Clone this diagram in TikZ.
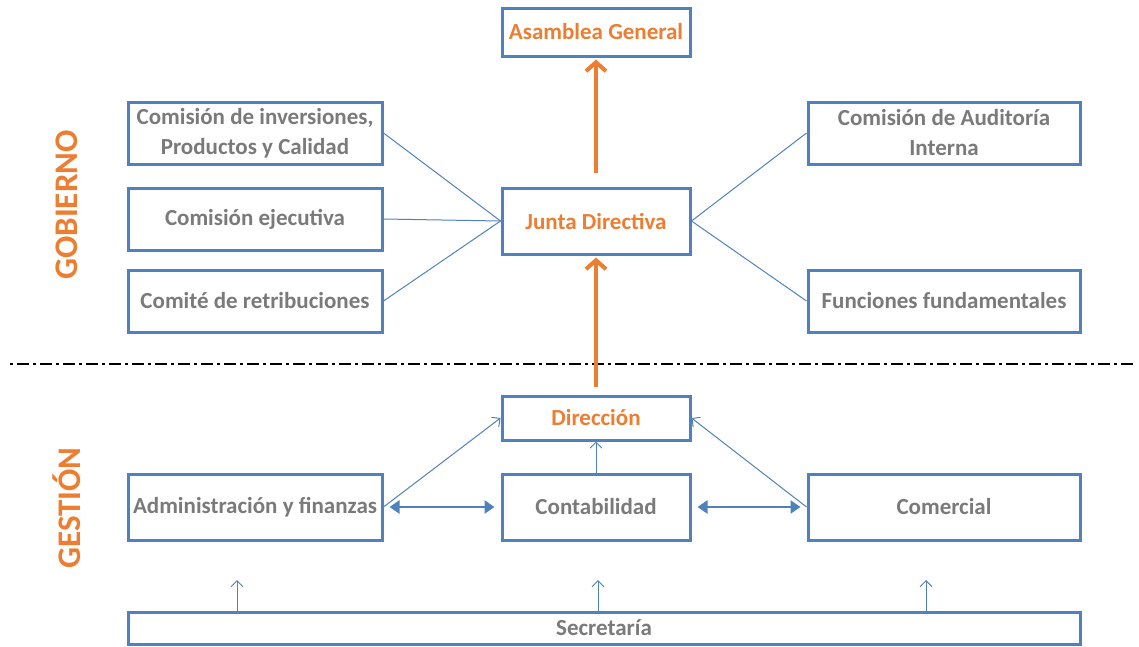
\documentclass[tikz,border=0pt]{standalone}
\usepackage{fontspec}
\setmainfont{Carlito}
\usetikzlibrary{arrows.meta}
\definecolor{boxblue}{HTML}{4F81BD}
\definecolor{orgorange}{HTML}{ED7D31}
\definecolor{txtgray}{HTML}{7A7A7A}
\tikzset{
  org/.style={draw=boxblue, line width=3pt, fill=white, align=center,
    font=\bfseries\fontsize{23}{30}\selectfont, text=txtgray, inner sep=0pt},
  orgtitle/.style={org, text=orgorange},
  thin/.style={draw=boxblue, line width=1pt},
  thinarrow/.style={thin, -{Straight Barb[length=6pt,width=12pt]}},
  bothways/.style={draw=boxblue, line width=2.5pt, {Triangle[length=10pt,width=13pt]}-{Triangle[length=10pt,width=13pt]}},
  uparrow/.style={draw=orgorange, line width=4pt, -{Straight Barb[length=9pt,width=20pt]}},
  side/.style={text=orgorange, font=\bfseries\fontsize{33}{36}\selectfont, rotate=90}
}
\begin{document}
\begin{tikzpicture}[x=1pt, y=-1pt]
\useasboundingbox (0,0) rectangle (1139,646);
% gobierno
\node[orgtitle, minimum width=188pt, minimum height=48pt] (asam) at (596,32){Asamblea General};
\node[orgtitle, minimum width=188pt, minimum height=66pt] (junta) at (596,221){Junta Directiva};
\node[org, minimum width=254pt, minimum height=62pt] (inv) at (255,133){Comisión de inversiones,\\Productos y Calidad};
\node[org, minimum width=254pt, minimum height=62pt] (ejec) at (255,219){Comisión ejecutiva};
\node[org, minimum width=254pt, minimum height=62pt] (retr) at (255,301){Comité de retribuciones};
\node[org, minimum width=272pt, minimum height=62pt] (audi) at (944,133){Comisión de Auditoría\\Interna};
\node[org, minimum width=272pt, minimum height=62pt] (func) at (944,301){Funciones fundamentales};
\draw[thin](inv.east) -- (junta.west);
\draw[thin](ejec.east) -- (junta.west);
\draw[thin](retr.east) -- (junta.west);
\draw[thin](audi.west) -- (junta.east);
\draw[thin](func.west) -- (junta.east);
\draw[uparrow, shorten <=14pt, shorten >=2pt](junta.north) -- (asam.south);
\node[side] (gob) at (67,205){GOBIERNO};
% separador
\coordinate (sepl) at (10,364);
\coordinate (sepr) at (1136,364);
\draw[line width=2.5pt, dash pattern=on 3pt off 4pt on 12pt off 4pt](sepl) -- (sepr);
% gestion
\node[orgtitle, minimum width=188pt, minimum height=44pt] (dir) at (596,418){Dirección};
\node[org, minimum width=254pt, minimum height=66pt] (admin) at (255,507){Administración y finanzas};
\node[org, minimum width=188pt, minimum height=66pt] (cont) at (596,507){Contabilidad};
\node[org, minimum width=272pt, minimum height=66pt] (come) at (944,507){Comercial};
\node[org, minimum width=952pt, minimum height=32pt] (secr) at (604,628){Secretaría};
\node[side] (gest) at (67,508){GESTIÓN};
\draw[uparrow, shorten <=8pt, shorten >=2pt](dir.north) -- (junta.south);
\draw[thinarrow](admin.east) -- (dir.west);
\draw[thinarrow](come.west) -- (dir.east);
\draw[thinarrow](cont.north) -- (dir.south);
\draw[bothways, shorten <=6pt, shorten >=6pt](admin.east) -- (cont.west);
\draw[bothways, shorten <=6pt, shorten >=6pt](cont.east) -- (come.west);
\coordinate (s1) at (237,580);
\coordinate (s2) at (598,580);
\coordinate (s3) at (926,580);
\draw[thinarrow](secr.north -| s1) -- (s1);
\draw[thinarrow](secr.north -| s2) -- (s2);
\draw[thinarrow](secr.north -| s3) -- (s3);
\end{tikzpicture}
\end{document}
